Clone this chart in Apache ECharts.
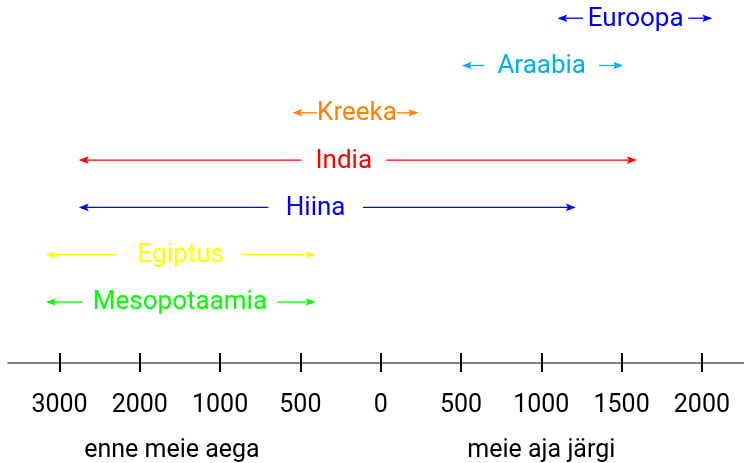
<!DOCTYPE html>
<html>
<head>
<meta charset="utf-8">
<script src="https://cdn.jsdelivr.net/npm/echarts@6/dist/echarts.min.js"></script>
<style>
  html, body { margin: 0; padding: 0; background: #fff; }
  #ajatelg { width: 744px; height: 463px; }
</style>
</head>
<body>
<div id="ajatelg"></div>
<script>
// telje jaotised (ühtlase sammuga, sildid aastatena)
var tickPos = [0, 1, 2, 3, 4, 5, 6, 7, 8];
var tickLabels = ['3000', '2000', '1000', '500', '0', '500', '1000', '1500', '2000'];
var eraPos = [1.4, 6];
var eraLabels = ['enne meie aega', 'meie aja järgi'];

// kultuurid alt üles, asukohad telje jaotiste ühikutes
var periods = ['Mesopotaamia', 'Egiptus', 'Hiina', 'India', 'Kreeka', 'Araabia', 'Euroopa'];
var startPos = [-0.17, -0.17, 0.24, 0.24, 2.90, 5.01, 6.20];
var endPos = [3.19, 3.19, 6.43, 7.19, 4.47, 7.02, 8.13];
// nooltevaheline vahe, kuhu tuleb nimi
var gapFrom = [0.29, 0.72, 2.60, 3.01, 3.21, 5.29, 6.52];
var gapTo = [2.71, 2.30, 3.78, 4.07, 4.20, 6.72, 7.83];

var rowColors = ['#00ff00', '#ffff00', '#0000ff', '#ff0000', '#ff8000', '#00aeef', '#0000ff'];
var fontName = 'Roboto, sans-serif';

var initAjatelg = function () {
  var myChart = echarts.init(document.getElementById('ajatelg'));

  var data = [];
  for (var i = 0; i < periods.length; i++) {
    data.push([startPos[i], endPos[i], gapFrom[i], gapTo[i], i]);
  }

  // nool: tipp (x, y), suund dir = -1 vasakule, 1 paremale
  var arrowHead = function (x, y, dir, color) {
    var len = 10, half = 3.8;
    return {
      type: 'polygon',
      shape: { points: [[x, y], [x - dir * len, y - half], [x - dir * (len - 2), y], [x - dir * len, y + half]] },
      style: { fill: color }
    };
  };

  var renderItem = function (params, api) {
    var idx = params.dataIndex;
    var row = api.value(4);
    var color = rowColors[idx];
    var pStart = api.coord([api.value(0), row]);
    var pEnd = api.coord([api.value(1), row]);
    var pGapA = api.coord([api.value(2), row]);
    var pGapB = api.coord([api.value(3), row]);
    var y = pStart[1];
    var lineStyle = { stroke: color, lineWidth: 1.3 };
    return {
      type: 'group',
      children: [
        { type: 'line', shape: { x1: pGapA[0], y1: y, x2: pStart[0] + 8, y2: y }, style: lineStyle },
        arrowHead(pStart[0], y, -1, color),
        { type: 'line', shape: { x1: pGapB[0], y1: y, x2: pEnd[0] - 8, y2: y }, style: lineStyle },
        arrowHead(pEnd[0], y, 1, color),
        {
          type: 'text',
          style: {
            text: periods[idx],
            x: (pGapA[0] + pGapB[0]) / 2,
            y: y + 1,
            fill: color,
            fontSize: 26,
            fontFamily: fontName,
            align: 'center',
            verticalAlign: 'middle'
          }
        }
      ]
    };
  };

  var option = {
    animation: false,
    backgroundColor: '#fff',
    grid: { left: 8, right: 0, top: 0, bottom: 100, containLabel: false, outerBoundsMode: 'none' },
    xAxis: [
      {
        type: 'value', min: -0.641, max: 8.524, position: 'bottom',
        axisLine: { show: true, onZero: false, lineStyle: { color: '#555', width: 1.5 } },
        axisTick: { show: true, inside: true, length: 10, customValues: tickPos, lineStyle: { color: '#000', width: 2 } },
        axisLabel: {
          customValues: tickPos, margin: 30, color: '#000', fontSize: 25, fontFamily: fontName,
          formatter: function (v) { return tickLabels[Math.round(v)]; }
        },
        splitLine: { show: false }
      },
      {
        type: 'value', min: -0.641, max: 8.524, position: 'bottom',
        axisLine: { show: false, onZero: false },
        axisTick: { show: true, inside: false, length: 9, customValues: tickPos, lineStyle: { color: '#000', width: 2 } },
        axisLabel: {
          customValues: eraPos, margin: 75, color: '#000', fontSize: 25, fontFamily: fontName,
          formatter: function (v) { return eraLabels[eraPos.indexOf(v)]; }
        },
        splitLine: { show: false }
      }
    ],
    yAxis: { type: 'value', min: -1.29, max: 6.385, show: false },
    series: [
      {
        type: 'custom',
        xAxisIndex: 0,
        yAxisIndex: 0,
        clip: false,
        renderItem: renderItem,
        encode: { x: [0, 1, 2, 3], y: 4 },
        data: data
      }
    ]
  };

  myChart.setOption(option);
};

initAjatelg();
</script>
</body>
</html>
